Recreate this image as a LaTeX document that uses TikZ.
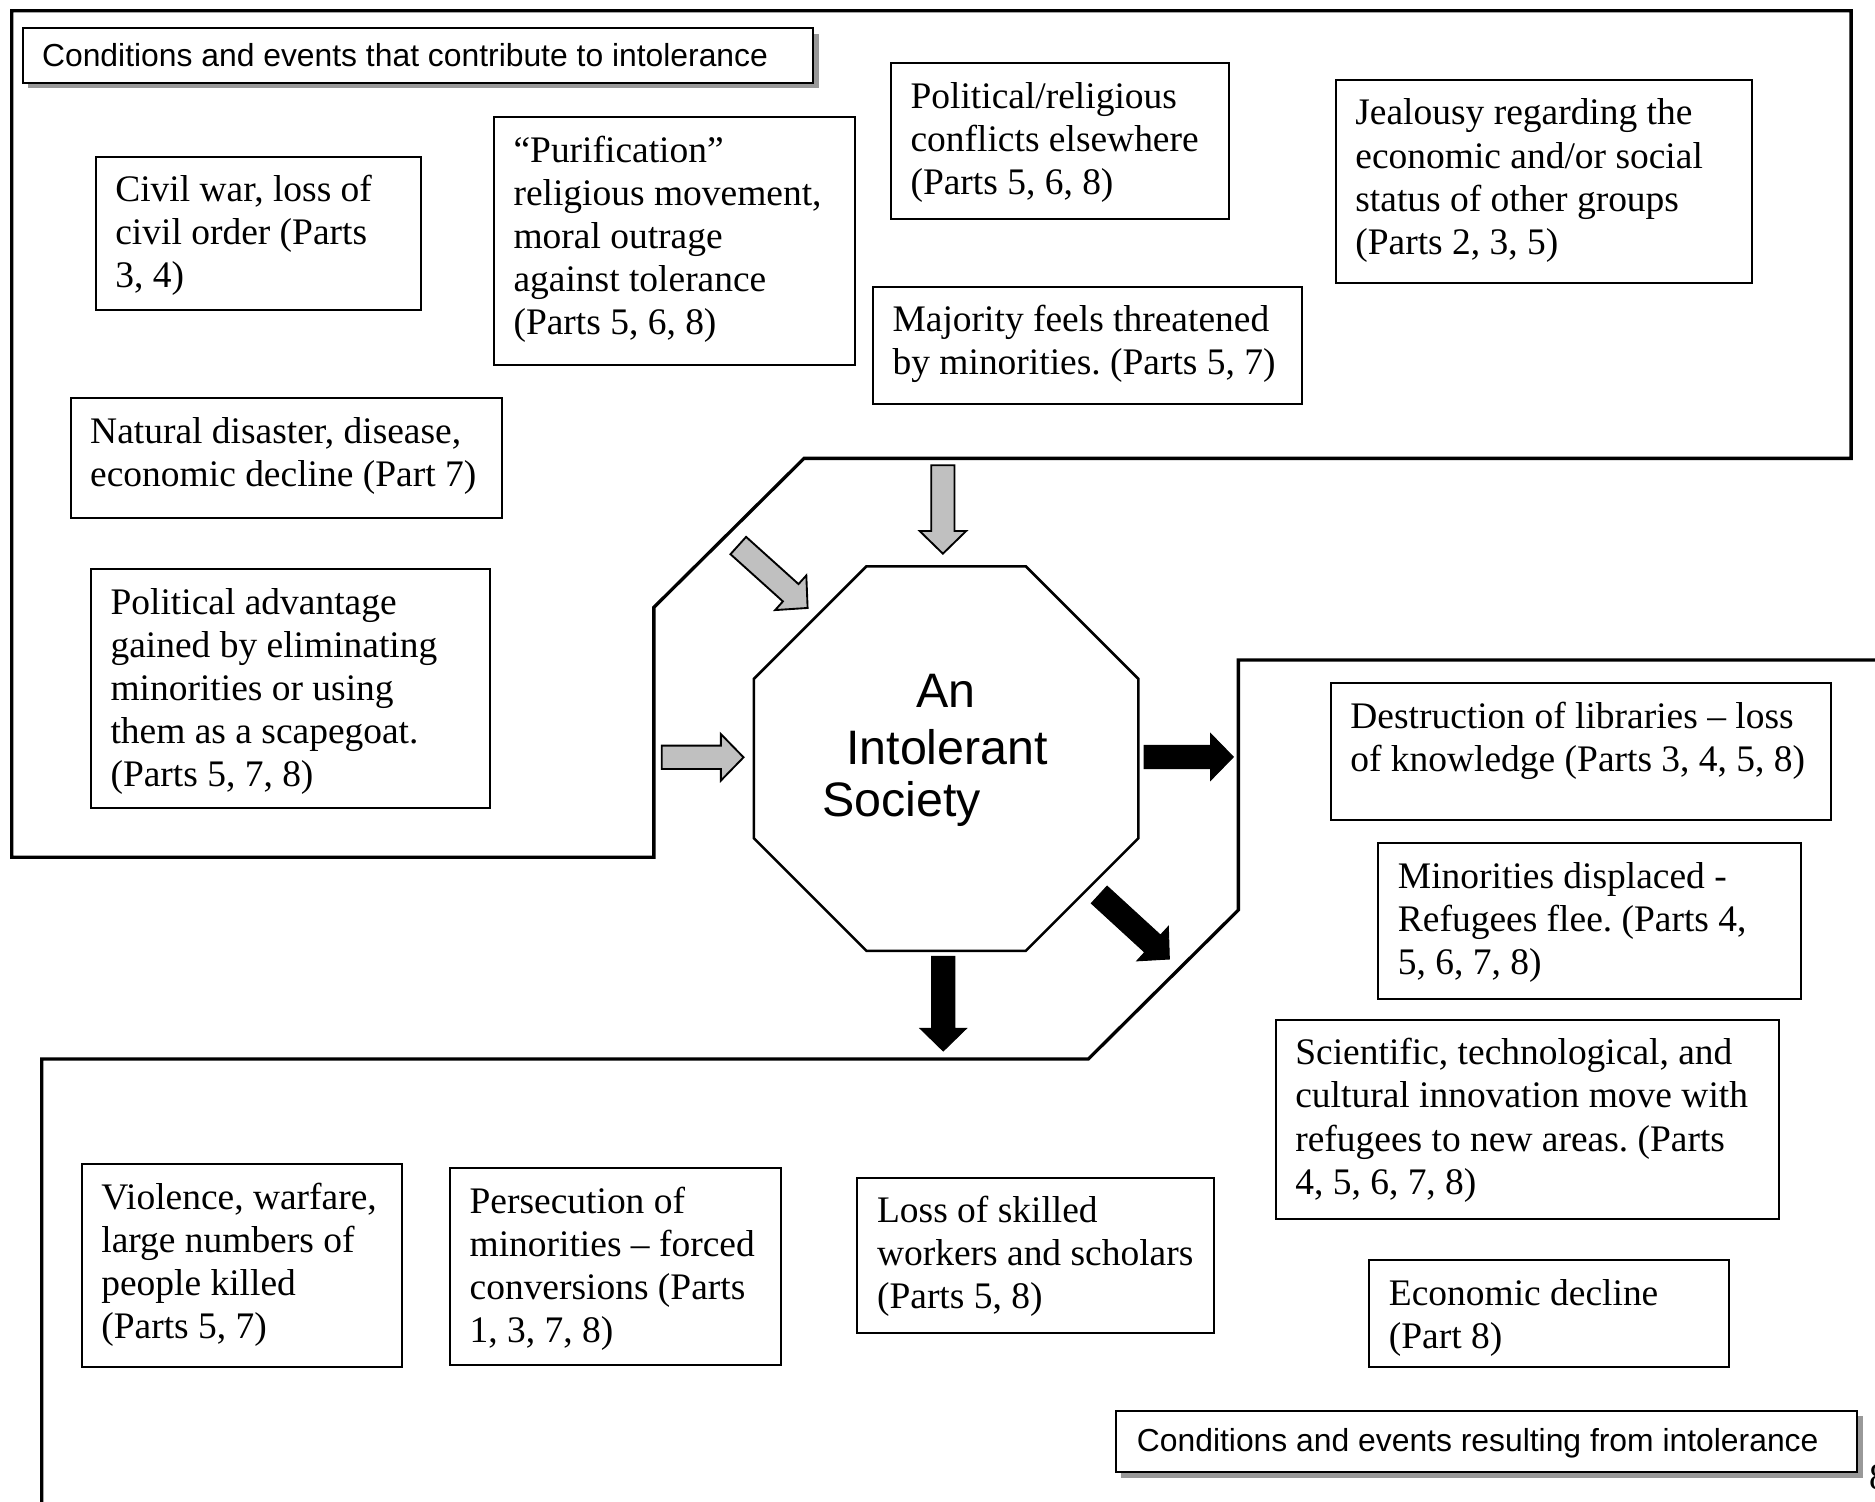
\documentclass[tikz,border=0pt]{standalone}
\usepackage{fontspec}
\setmainfont{Liberation Serif}[Ligatures={TeX,CommonOff}]
\newfontfamily\arialf{Liberation Sans}
\usetikzlibrary{shapes.geometric,shadows,calc}
\definecolor{silver}{HTML}{C0C0C0}
\definecolor{shadowgray}{HTML}{999999}
\frenchspacing

\tikzset{
  region/.style={draw=black, line width=1.05pt, line join=miter},
  tbox/.style={draw=black, line width=0.65pt, rectangle, inner sep=0pt, outer sep=0pt},
  ttext/.style={anchor=base west, inner sep=0pt, outer sep=0pt, font=\fontsize{12}{13.8}\selectfont\frenchspacing},
  lbox/.style={draw=black, line width=0.7pt, fill=white, rectangle, inner sep=0pt, outer sep=0pt,
    drop shadow={shadow xshift=1.7pt, shadow yshift=-1.7pt, fill=shadowgray, opacity=1}},
  ltext/.style={anchor=base west, inner sep=0pt, outer sep=0pt, font=\arialf\fontsize{10.2}{12}\selectfont},
  octa/.style={draw=black, regular polygon, regular polygon sides=8, minimum size=133.3pt,
    inner sep=0pt, outer sep=0pt, line width=0.8pt},
  ctext/.style={anchor=base, inner sep=0pt, outer sep=0pt, font=\arialf\fontsize{15.5}{17.8}\selectfont},
  garrow/.style={draw=black, line width=0.6pt, fill=silver, line join=miter},
  barrow/.style={draw=black, line width=0.3pt, fill=black, line join=miter},
}

% text box: name, x1, y1, x2, y2, text
\newcommand{\tbox}[6]{%
  \node[tbox, minimum width={(#4-#2)*0.383pt}, minimum height={(#5-#3)*0.383pt}]
    (#1) at ({(#2+#4)/2},{(#3+#5)/2}) {};
  \node[ttext] (#1-t) at ([xshift=6.3pt, yshift=-14.36pt]#1.north west)
    {\parbox[t]{400pt}{\raggedright\frenchspacing #6}};
}

% block arrow: name, tail x, tail y, angle, length, style
\newcommand{\blockarr}[6]{%
  \coordinate (#1-tail) at (#2,#3);
  \draw[#6, shift={(#1-tail)}, rotate=#4]
    (0,-9.75) -- ({#5-19},-9.75) -- ({#5-19},-19.5) -- (#5,0)
    -- ({#5-19},19.5) -- ({#5-19},9.75) -- (0,9.75) -- cycle;
}

\begin{document}
\begin{tikzpicture}[x=0.383pt, y=-0.383pt]
\useasboundingbox (0,0) rectangle (1568,1256);

% regions
\draw[region] (9.8,8.9) -- (1548,8.9) -- (1548,383.3) -- (672.4,383.3)
  -- (546.8,507.9) -- (546.8,716.8) -- (9.8,716.8) -- cycle;
\draw[region] (1580,552) -- (1035.6,552) -- (1035.6,761) -- (910.1,885.6)
  -- (34.9,885.6) -- (34.9,1270);

% labels
\node[lbox, minimum width={(680.2-19)*0.383pt}, minimum height={(69.1-23.7)*0.383pt}]
  (lab1) at ({(19+680.2)/2},{(23.7+69.1)/2}) {};
\node[ltext] (lab1-t) at ([xshift=6.2pt, yshift=-12.3pt]lab1.north west)
  {Conditions and events that contribute to intolerance};

\node[lbox, minimum width={(1553.2-933)*0.383pt}, minimum height={(1231.2-1180)*0.383pt}]
  (lab2) at ({(933+1553.2)/2},{(1180+1231.2)/2}) {};
\node[ltext] (lab2-t) at ([xshift=6.8pt, yshift=-13pt]lab2.north west)
  {Conditions and events resulting from intolerance};

% top region boxes
\tbox{A}{80}{131}{352}{259}{Civil war, loss of\\civil order (Parts\\3, 4)}
\tbox{B}{413}{98}{715}{305}{“Purification”\\religious movement,\\moral outrage\\against tolerance\\(Parts 5, 6, 8)}
\tbox{C}{745}{53}{1028}{183}{Political/religious\\conflicts elsewhere\\(Parts 5, 6, 8)}
\tbox{D}{1117}{67}{1465}{236.4}{Jealousy regarding the\\economic and/or social\\status of other groups\\(Parts 2, 3, 5)}
\tbox{E}{730}{240}{1089}{338}{Majority feels threatened\\by minorities. (Parts 5, 7)}
\tbox{F}{59}{333}{420}{433}{Natural disaster, disease,\\economic decline (Part 7)}
\tbox{G}{76}{476}{410}{676}{Political advantage\\gained by eliminating\\minorities or using\\them as a scapegoat.\\(Parts 5, 7, 8)}

% right region boxes
\tbox{H}{1112.8}{571.4}{1530.9}{685.7}{Destruction of libraries – loss\\of knowledge (Parts 3, 4, 5, 8)}
\tbox{I}{1152.6}{705.2}{1506.4}{835.4}{Minorities displaced -\\Refugees flee. (Parts 4,\\5, 6, 7, 8)}
\tbox{J}{1066.8}{853}{1488}{1019}{Scientific, technological, and\\cultural innovation move with\\refugees to new areas. (Parts\\4, 5, 6, 7, 8)}
\tbox{K}{1145}{1054}{1446}{1143}{Economic decline\\(Part 8)}

% bottom region boxes
\tbox{L}{68.3}{973.7}{335.9}{1142.9}{Violence, warfare,\\large numbers of\\people killed\\(Parts 5, 7)}
\tbox{M}{376.3}{977}{653}{1141.5}{Persecution of\\minorities – forced\\conversions (Parts\\1, 3, 7, 8)}
\tbox{N}{717}{985}{1015}{1115}{Loss of skilled\\workers and scholars\\(Parts 5, 8)}

% central octagon
\node[octa] (soc) at (791.2,634.3) {};
\node[ctext] (socA) at (791,591.5) {An};
\node[ctext] (socB) at (792,639.3) {Intolerant};
\node[ctext] (socC) at (754,682.6) {Society};

% arrows into the society
\blockarr{g1}{788.5}{389}{-90}{74}{garrow}
\blockarr{g2}{617.4}{456.2}{-42}{78}{garrow}
\blockarr{g3}{553.4}{633.3}{0}{68.4}{garrow}
% arrows out of the society
\blockarr{b1}{956.7}{633}{0}{74.7}{barrow}
\blockarr{b2}{919.2}{748.2}{-42.5}{79.6}{barrow}
\blockarr{b3}{788.8}{799.7}{-90}{79.2}{barrow}

% page number at the edge
\node[ttext] (pg) at (1563,1246) {8};
\end{tikzpicture}
\end{document}
